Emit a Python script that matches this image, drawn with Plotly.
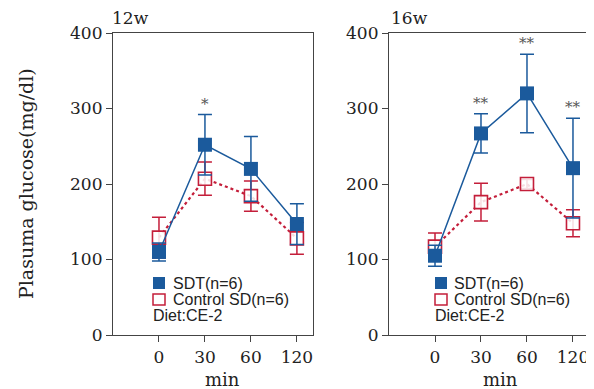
import plotly.graph_objects as go

times = ["0", "30", "60", "120"]

# 12w panel
sdt_12 = [110, 252, 220, 147]
sdt_12_err = [12, 40, 43, 27]
ctl_12 = [129, 207, 184, 128]
ctl_12_err = [27, 22, 20, 21]
star_12 = ["", "*", "", ""]

# 16w panel
sdt_16 = [105, 267, 320, 221]
sdt_16_err = [14, 26, 52, 66]
ctl_16 = [117, 176, 200, 148]
ctl_16_err = [18, 25, 6, 18]
star_16 = ["", "**", "**", "**"]

panel_titles = ["12w", "16w"]
legend_labels = ["SDT(n=6)", "Control SD(n=6)", "Diet:CE-2"]

BLUE = "#1b5a9c"
RED = "#c41e3a"
AXC = "#444444"
W, H = 594, 389

# page body offset (default 8px body margin) compensation
OX, OY = 8.0, 8.0


def px(x):
    return (x - OX) / W


def py(y):
    return 1 - (y - OY) / H


fig = go.Figure()
xi = list(range(len(times)))

panels = [
    (sdt_12, sdt_12_err, ctl_12, ctl_12_err, star_12, "x", "y"),
    (sdt_16, sdt_16_err, ctl_16, ctl_16_err, star_16, "x2", "y2"),
]

for sdt, sdt_e, ctl, ctl_e, stars, xa, ya in panels:
    fig.add_trace(go.Scatter(
        x=xi, y=ctl, xaxis=xa, yaxis=ya, mode="lines+markers",
        line=dict(color=RED, width=2.2, dash="dot"),
        marker=dict(symbol="square", size=13, color="rgba(255,255,255,0.85)",
                    line=dict(color=RED, width=1.6)),
        error_y=dict(type="data", array=ctl_e, color=RED, thickness=1.5, width=7),
        showlegend=False, cliponaxis=False))
    fig.add_trace(go.Scatter(
        x=xi, y=sdt, xaxis=xa, yaxis=ya, mode="lines+markers",
        line=dict(color=BLUE, width=1.5),
        marker=dict(symbol="square", size=14, color=BLUE, line=dict(width=0)),
        error_y=dict(type="data", array=sdt_e, color=BLUE, thickness=1.5, width=7),
        showlegend=False, cliponaxis=False))
    for i, s in enumerate(stars):
        if s:
            fig.add_annotation(x=xi[i], y=sdt[i] + sdt_e[i], xref=xa, yref=ya,
                               text=s, showarrow=False, yanchor="bottom", yshift=0,
                               font=dict(family="DejaVu Serif", size=15, color="#555555"))

ydom = [py(335), py(33)]
xdoms = [[px(113), px(313)], [px(389), px(590)]]
xranges = [[-1, 3.35], [-1, 3.37]]

axis_common = dict(showline=True, linecolor=AXC, linewidth=1.2, mirror=True,
                   ticks="outside", ticklen=6, tickcolor=AXC, tickwidth=1,
                   showgrid=False, zeroline=False, automargin=False,
                   tickfont=dict(family="DejaVu Serif", size=17, color="#222222"))

for k in range(2):
    sx = "xaxis" if k == 0 else "xaxis2"
    sy = "yaxis" if k == 0 else "yaxis2"
    fig.layout[sx] = dict(domain=xdoms[k], range=xranges[k], tickvals=xi, ticktext=times,
                          anchor="y" if k == 0 else "y2", **axis_common)
    fig.layout[sy] = dict(domain=ydom, range=[0, 400], tickvals=[0, 100, 200, 300, 400],
                          anchor="x" if k == 0 else "x2", **axis_common)

title_x = [110, 389]
min_x = [222, 500]
for k, t in enumerate(panel_titles):
    fig.add_annotation(x=px(title_x[k]), y=py(18), xref="paper", yref="paper",
                       text=t, showarrow=False, xanchor="left", yanchor="middle",
                       font=dict(family="DejaVu Serif", size=17, color="#222222"))
    fig.add_annotation(x=px(min_x[k]), y=py(379),
                       xref="paper", yref="paper", text="min", showarrow=False,
                       xanchor="center", yanchor="middle",
                       font=dict(family="DejaVu Serif", size=18, color="#222222"))

fig.add_annotation(x=px(26), y=py(184), xref="paper", yref="paper",
                   text="Plasuma glucose(mg/dl)", showarrow=False, textangle=-90,
                   xanchor="center", yanchor="middle",
                   font=dict(family="DejaVu Serif", size=19, color="#222222"))

# legends
legend_pos = [(153, 172), (435, 453)]
rows_y = [283, 299, 315]
for bx, tx in legend_pos:
    fig.add_shape(type="rect", xref="paper", yref="paper",
                  x0=px(bx), x1=px(bx + 12), y0=py(289), y1=py(277),
                  fillcolor=BLUE, line=dict(width=0))
    fig.add_shape(type="rect", xref="paper", yref="paper",
                  x0=px(bx), x1=px(bx + 12), y0=py(305), y1=py(294),
                  fillcolor="white", line=dict(color=RED, width=1.5))
    for j, lab in enumerate(legend_labels):
        x0 = tx if j < 2 else bx - 1
        fig.add_annotation(x=px(x0), y=py(rows_y[j]), xref="paper", yref="paper",
                           text=lab, showarrow=False, xanchor="left", yanchor="middle",
                           borderpad=0,
                           font=dict(family="Liberation Sans", size=16, color="#222222"))

fig.update_layout(width=W, height=H, margin=dict(l=0, r=0, t=0, b=0, pad=0),
                  paper_bgcolor="white", plot_bgcolor="white")

fig.write_html("out.html")
